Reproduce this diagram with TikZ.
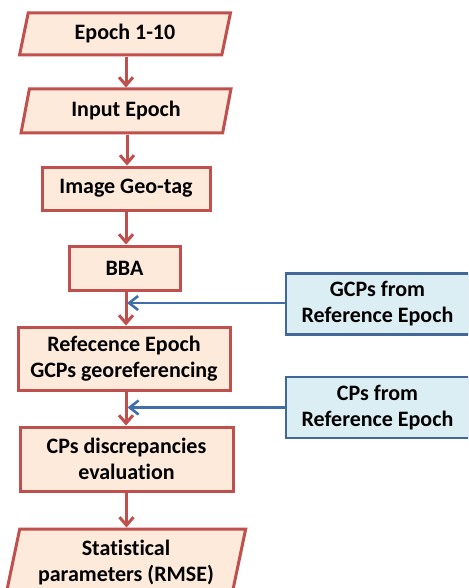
\documentclass[tikz,border=0pt]{standalone}
\usepackage{fontspec}
\setmainfont{Carlito}[Ligatures=NoCommon]
\usetikzlibrary{shapes.geometric,arrows.meta}
\definecolor{redline}{RGB}{192,80,77}
\definecolor{redfill}{RGB}{253,234,218}
\definecolor{blueline}{RGB}{65,104,152}
\definecolor{bluefill}{RGB}{219,238,244}
\definecolor{bluearrow}{RGB}{64,110,170}
\tikzset{
  base/.style={font=\bfseries\fontsize{22}{26}\selectfont, align=center, inner sep=0pt},
  redbox/.style={base, draw=redline, fill=redfill, line width=3pt, rectangle},
  iobox/.style={base, draw=redline, fill=redfill, line width=3pt, trapezium, trapezium stretches=true},
  bluebox/.style={base, draw=blueline, fill=bluefill, line width=2.4pt, rectangle},
  redarrow/.style={draw=redline, line width=3pt, -{Straight Barb[length=8pt,width=14pt,line width=3pt]}},
  bluearrow/.style={draw=bluearrow, line width=2.6pt, -{Straight Barb[length=9pt,width=14pt,line width=2.6pt]}}
}
\begin{document}
\begin{tikzpicture}[x=1pt,y=-1pt]
\useasboundingbox (0,0) rectangle (468,588);
\clip (0,0) rectangle (468,588);
\node[iobox, trapezium left angle=76.6, trapezium right angle=103.4, minimum width=211pt, minimum height=42pt] (e) at (125,34) {Epoch 1-10};
\node[iobox, trapezium left angle=76, trapezium right angle=104, minimum width=210pt, minimum height=44pt] (ie) at (126,111) {Input Epoch};
\node[redbox, minimum width=168pt, minimum height=43pt] (geo) at (126,188.5) {Image Geo-tag};
\node[redbox, minimum width=111pt, minimum height=44pt] (bba) at (124.5,268) {BBA};
\node[redbox, minimum width=212pt, minimum height=63pt] (ref) at (124,358.5) {Refecence Epoch\\GCPs georeferencing};
\node[redbox, minimum width=213pt, minimum height=64pt] (cpd) at (126.5,459) {CPs discrepancies\\evaluation};
\node[iobox, trapezium left angle=75, trapezium right angle=105, minimum width=240pt, minimum height=64pt, text depth=0pt] (stat) at (126,561) {Statistical\\parameters (RMSE)};
\node[bluebox, minimum width=183pt, minimum height=61pt] (gcp) at (377.5,304) {GCPs from\\Reference Epoch};
\node[bluebox, minimum width=183pt, minimum height=61pt] (cp) at (377.5,407.5) {CPs from\\Reference Epoch};
\draw[redarrow] ([xshift=1pt]e.south) -- ([xshift=1pt]e.south |- ie.north);
\draw[redarrow] ([xshift=1pt]ie.south) -- ([xshift=1pt]ie.south |- geo.north);
\draw[redarrow] (geo.south) -- (geo.south |- bba.north);
\draw[redarrow] ([xshift=1.5pt]bba.south) -- ([xshift=1.5pt]bba.south |- ref.north);
\draw[redarrow] ([xshift=2pt]ref.south) -- ([xshift=2pt]ref.south |- cpd.north);
\draw[redarrow] (cpd.south) -- (cpd.south |- stat.north);
\coordinate (g1) at ([yshift=1pt]gcp.west);
\coordinate (c1) at (cp.west);
\draw[bluearrow] (g1) -- ([xshift=2.5pt]g1 -| bba.south);
\draw[bluearrow] (c1) -- ([xshift=3.5pt]c1 -| ref.south);
\end{tikzpicture}
\end{document}
